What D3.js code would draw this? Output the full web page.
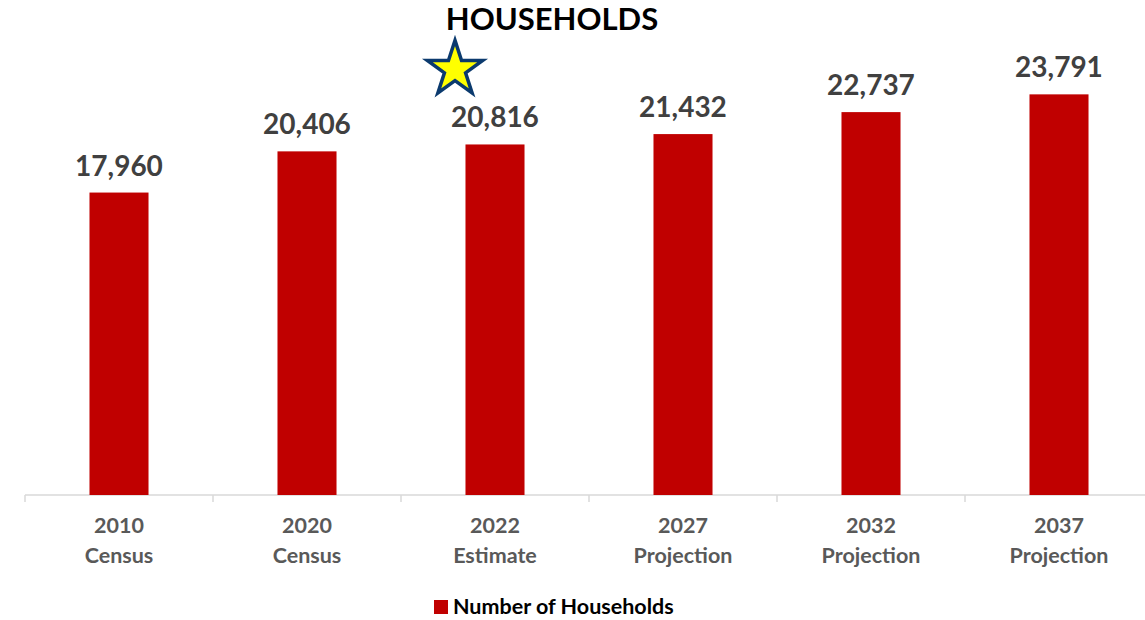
<!DOCTYPE html>
<html>
<head>
<meta charset="utf-8">
<script src="https://cdn.jsdelivr.net/npm/d3@7"></script>
<style>
  body { margin: 0; background: #fff; }
  svg { display: block; font-family: Lato, "Open Sans", sans-serif; }
</style>
</head>
<body>
<svg id="chart"></svg>
<script>
// chart data
var years = ["2010", "2020", "2022", "2027", "2032", "2037"];
var kinds = ["Census", "Census", "Estimate", "Projection", "Projection", "Projection"];
var households = [17960, 20406, 20816, 21432, 22737, 23791];
var seriesName = "Number of Households";
var starredIndex = 2;

var width = 1145, height = 620;
var margin = {top: 74, right: -8, bottom: 125, left: 25};
var innerW = width - margin.left - margin.right,
    innerH = height - margin.top - margin.bottom;

var svg = d3.select("#chart")
    .attr("width", width)
    .attr("height", height);

// title
svg.append("text")
    .attr("x", 552)
    .attr("y", 30)
    .attr("text-anchor", "middle")
    .attr("font-size", 31)
    .attr("font-weight", "bold")
    .attr("fill", "#000")
    .text("HOUSEHOLDS");

var g = svg.append("g")
    .attr("transform", "translate(" + margin.left + "," + margin.top + ")");

var x = d3.scaleBand()
    .domain(years)
    .range([0, innerW])
    .paddingInner(0.686)
    .paddingOuter(0.343);

var y = d3.scaleLinear()
    .domain([0, 25000])
    .range([innerH, 0]);

// X axis
var xAxis = g.append("g")
    .attr("transform", "translate(0," + innerH + ")");
xAxis.append("line")
    .attr("x1", 0).attr("x2", innerW)
    .attr("stroke", "#d9d9d9")
    .attr("stroke-width", 1.5);
var step = x.step();
xAxis.selectAll(".tick")
    .data(d3.range(years.length + 1))
    .join("line")
    .attr("class", "tick")
    .attr("x1", function(i) { return x(years[0]) - x.paddingOuter() * step + i * step; })
    .attr("x2", function(i) { return x(years[0]) - x.paddingOuter() * step + i * step; })
    .attr("y1", 0).attr("y2", 7)
    .attr("stroke", "#d9d9d9")
    .attr("stroke-width", 1.5);

var labels = xAxis.selectAll(".lab")
    .data(years)
    .join("text")
    .attr("class", "lab")
    .attr("text-anchor", "middle")
    .attr("font-size", 21.5)
    .attr("font-weight", "bold")
    .attr("fill", "#595959");
labels.append("tspan")
    .attr("x", function(d) { return x(d) + x.bandwidth() / 2; })
    .attr("y", 38)
    .text(function(d) { return d; });
labels.append("tspan")
    .attr("x", function(d) { return x(d) + x.bandwidth() / 2; })
    .attr("y", 68)
    .text(function(d, i) { return kinds[i]; });

// bars
g.selectAll(".bar")
    .data(households)
    .join("rect")
    .attr("class", "bar")
    .attr("x", function(d, i) { return x(years[i]); })
    .attr("y", function(d) { return y(d); })
    .attr("width", x.bandwidth())
    .attr("height", function(d) { return innerH - y(d); })
    .attr("fill", "#c00000");

// value labels
g.selectAll(".val")
    .data(households)
    .join("text")
    .attr("class", "val")
    .attr("x", function(d, i) { return x(years[i]) + x.bandwidth() / 2; })
    .attr("y", function(d) { return y(d) - 17; })
    .attr("text-anchor", "middle")
    .attr("font-size", 28)
    .attr("font-weight", "bold")
    .attr("fill", "#404040")
    .text(function(d) { return d3.format(",")(d); });

// star over the estimate
var star = d3.symbol().type(d3.symbolStar).size(950);
g.append("path")
    .attr("d", star())
    .attr("transform", "translate(" + (x(years[starredIndex]) + x.bandwidth() / 2 - 40) + "," + (y(households[starredIndex]) - 75) + ")")
    .attr("fill", "#ffff00")
    .attr("stroke", "#0b3a6e")
    .attr("stroke-width", 3.5)
    .attr("stroke-linejoin", "miter");

// legend
var legend = svg.append("g")
    .attr("transform", "translate(434,600)");
legend.append("rect")
    .attr("width", 14).attr("height", 14)
    .attr("fill", "#c00000");
legend.append("text")
    .attr("x", 19)
    .attr("y", 14)
    .attr("font-size", 21.5)
    .attr("font-weight", "bold")
    .attr("fill", "#000")
    .text(seriesName);
</script>
</body>
</html>
